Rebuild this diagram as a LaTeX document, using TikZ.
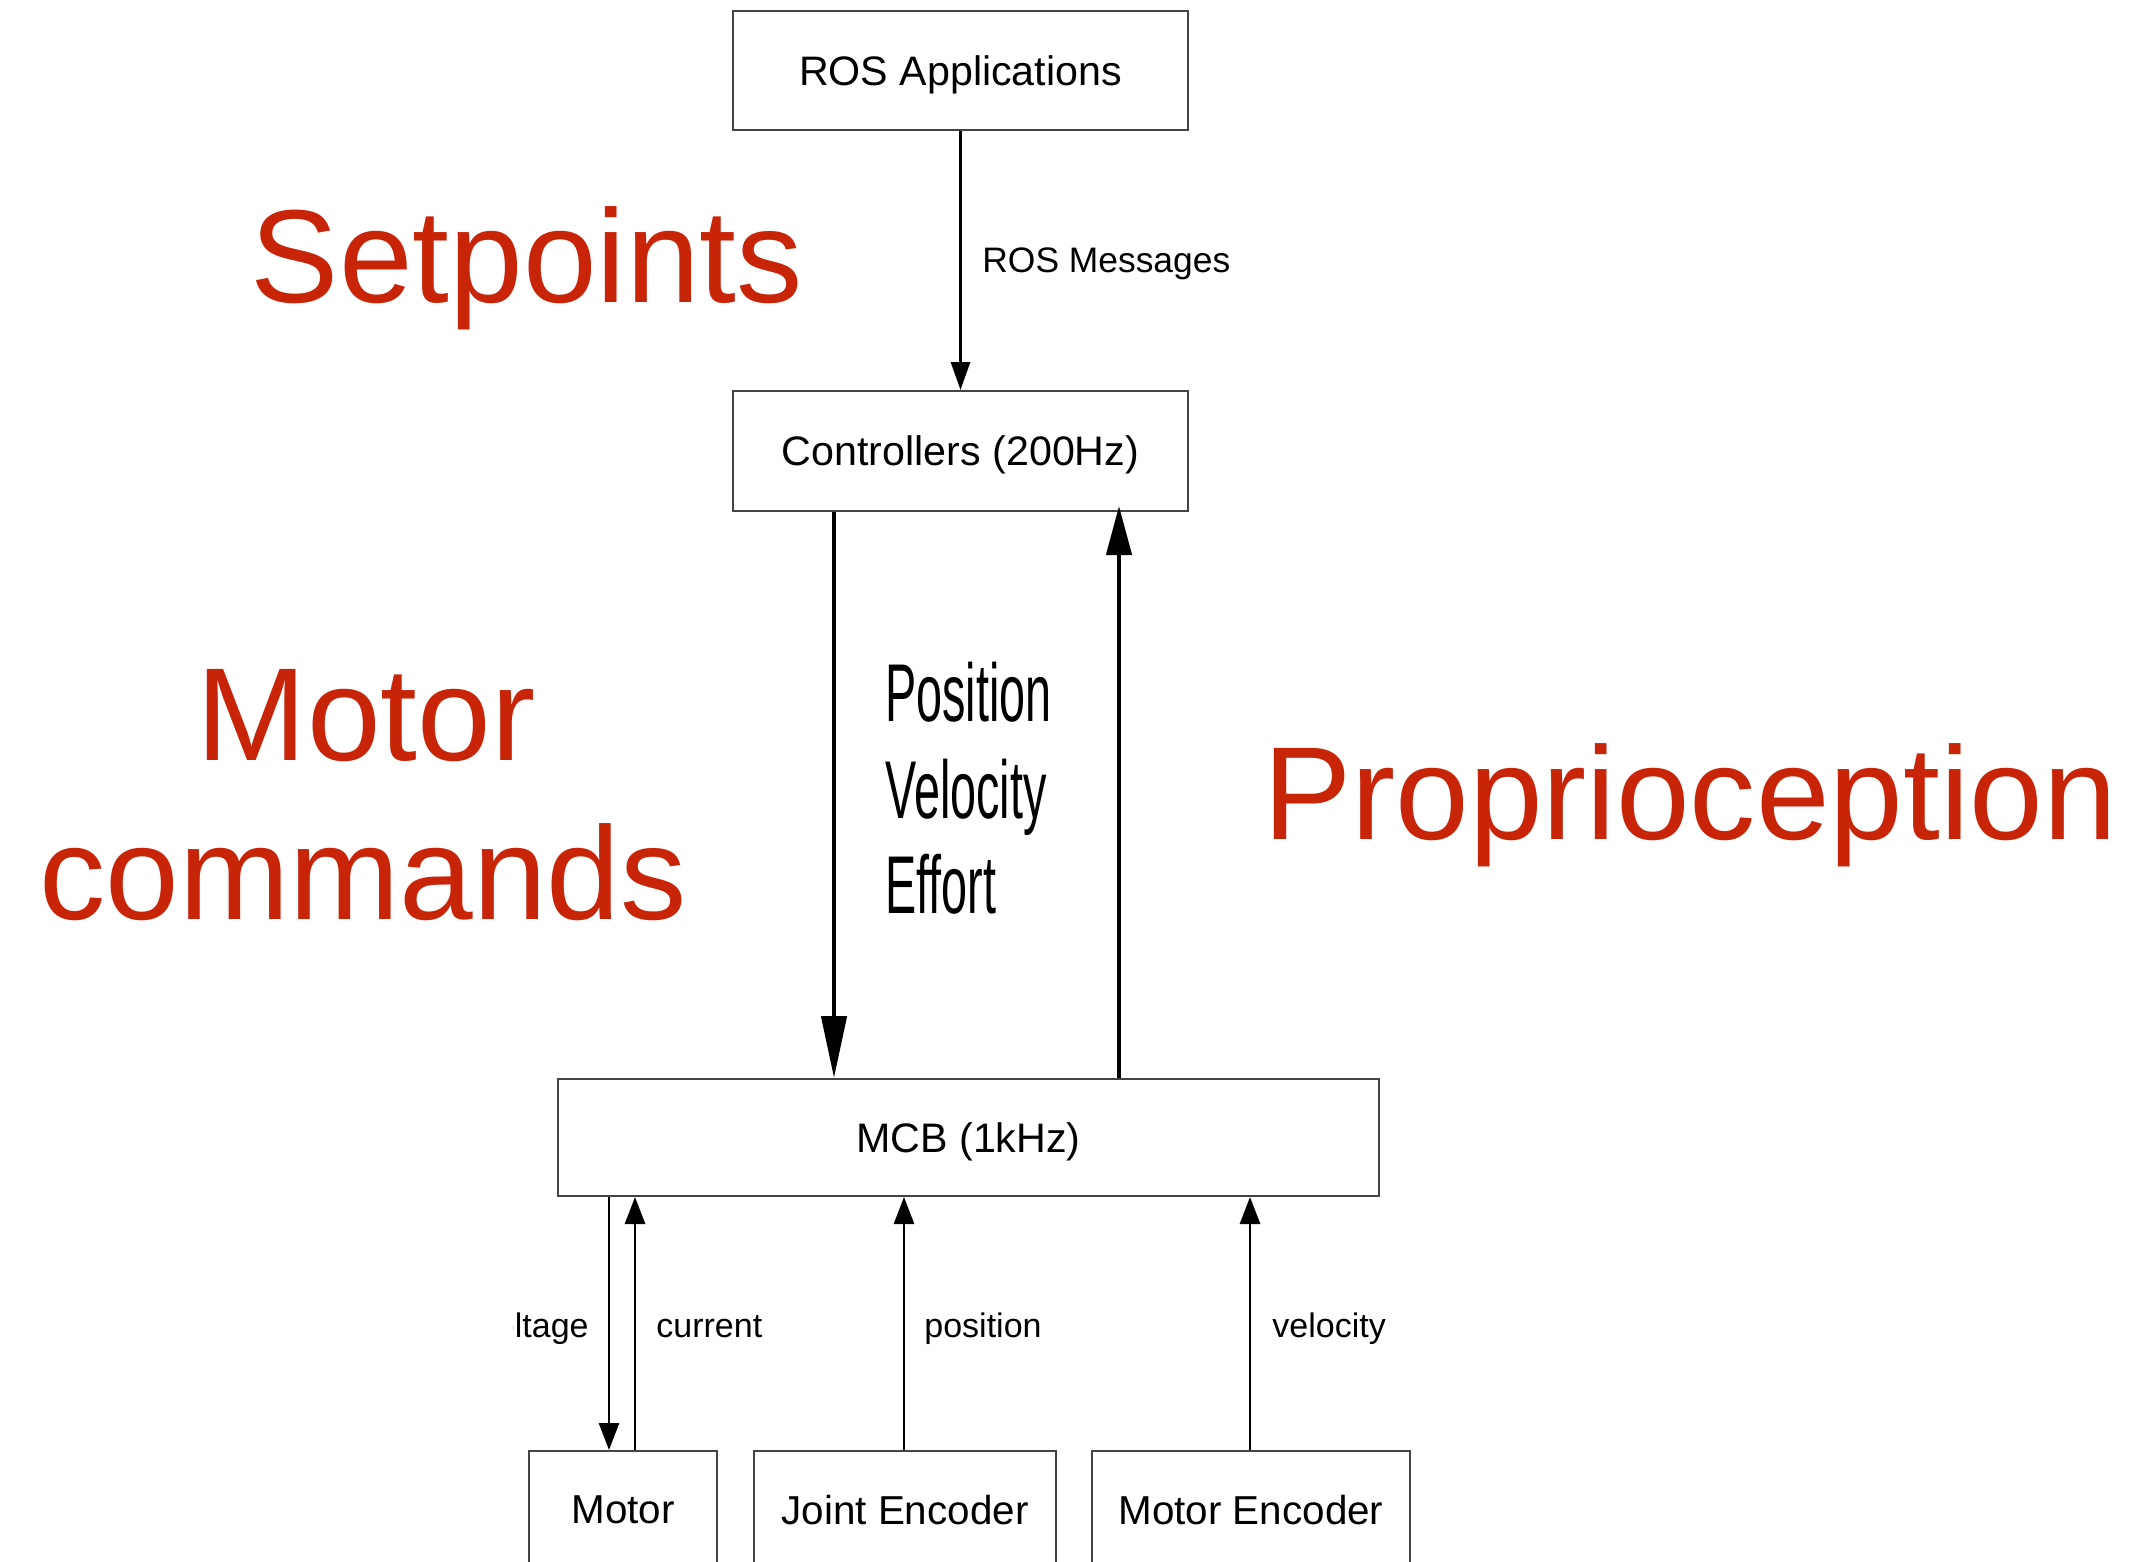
\documentclass[tikz,border=0pt]{standalone}
\usepackage{fontspec}
\setmainfont{Liberation Sans}
\usetikzlibrary{arrows.meta}
\definecolor{redlab}{RGB}{200,36,8}
\definecolor{boxline}{RGB}{68,68,68}
\begin{document}
\begin{tikzpicture}[x=0.5pt,y=-0.5pt,
  box/.style={draw=boxline,line width=1pt,rectangle,inner sep=0pt,text depth=0pt,
    minimum height=58.5pt,font=\fontsize{20.6pt}{24pt}\selectfont},
  lowbox/.style={box,font=\fontsize{20.2pt}{24pt}\selectfont},
  lab/.style={inner sep=0pt,font=\fontsize{17pt}{20pt}\selectfont},
  big/.style={inner sep=0pt,text=redlab,anchor=base,font=\fontsize{66.2pt}{80pt}\selectfont},
  pve/.style={inner sep=0pt,anchor=base west,font=\fontsize{41pt}{48pt}\selectfont},
  thinarrow/.style={line width=1.5pt,-{Triangle[length=14pt,width=9.5pt]}},
  smallarrow/.style={line width=1.4pt,-{Triangle[length=13.5pt,width=10pt]}},
  thickdown/.style={line width=2.25pt,-{Triangle[length=31pt,width=12.5pt]}},
  thickup/.style={line width=2.25pt,-{Triangle[length=24.5pt,width=12.5pt]}},
]
\useasboundingbox (0,0) rectangle (2131,1562);
\clip (0,0) rectangle (2131,1562);

% boxes
\node[box,minimum width=227.5pt,minimum height=59.5pt] (ros) at (960.5,70.5) {ROS Applications};
\node[box,minimum width=227.5pt,minimum height=60pt] (ctrl) at (960.5,451) {Controllers (200Hz)};
\node[box,minimum width=410.5pt] (mcb) at (968.5,1137.5) {MCB (1kHz)};
\node[lowbox,minimum width=94pt] (motor) at (623,1509.5) {Motor};
\node[lowbox,minimum width=151pt] (jenc) at (905,1509.5) {Joint Encoder};
\node[lowbox,minimum width=159pt] (menc) at (1251,1509.5) {Motor Encoder};

% x positions of the connectors
\coordinate (xcmd) at (834,0);
\coordinate (xfb) at (1119,0);
\coordinate (xvolt) at (609,0);
\coordinate (xcur) at (635,0);
\coordinate (xpos) at (904,0);
\coordinate (xvel) at (1250,0);

% connectors
\draw[thinarrow] (ros.south) -- (ctrl.north);
\draw[thickdown] (ctrl.south -| xcmd) -- (mcb.north -| xcmd);
\draw[thickup] (mcb.north -| xfb) -- ([yshift=3pt]ctrl.south -| xfb);
\draw[smallarrow] (mcb.south -| xvolt) -- (motor.north -| xvolt);
\draw[smallarrow] (motor.north -| xcur) -- (mcb.south -| xcur);
\draw[smallarrow] (jenc.north -| xpos) -- (mcb.south -| xpos);
\draw[smallarrow] (menc.north -| xvel) -- (mcb.south -| xvel);

% connector labels
\node[lab,anchor=base west,font=\fontsize{17.7pt}{21pt}\selectfont] (rosmsg) at (982,272) {ROS Messages};
\begin{scope}
  \clip (513,1250) rectangle (600,1400);
  \node[lab,anchor=base east] (volt) at (589,1337) {voltage};
\end{scope}
\node[lab,anchor=base west] (cur) at (656,1337) {current};
\node[lab,anchor=base west] (posl) at (924,1337) {position};
\node[lab,anchor=base west] (vell) at (1272,1337) {velocity};

\node[pve] (pos) at (885,721) {\scalebox{0.57}[1]{Position}};
\node[pve] (vel) at (885,818) {\scalebox{0.57}[1]{Velocity}};
\node[pve] (eff) at (885,913) {\scalebox{0.57}[1]{Effort}};

% red annotations
\node[big] (setp) at (527,303) {Setpoints};
\node[big] (mc1) at (366,760) {Motor};
\node[big] (mc2) at (363,919) {commands};
\node[big] (prop) at (1690,839) {Proprioception};
\end{tikzpicture}
\end{document}
